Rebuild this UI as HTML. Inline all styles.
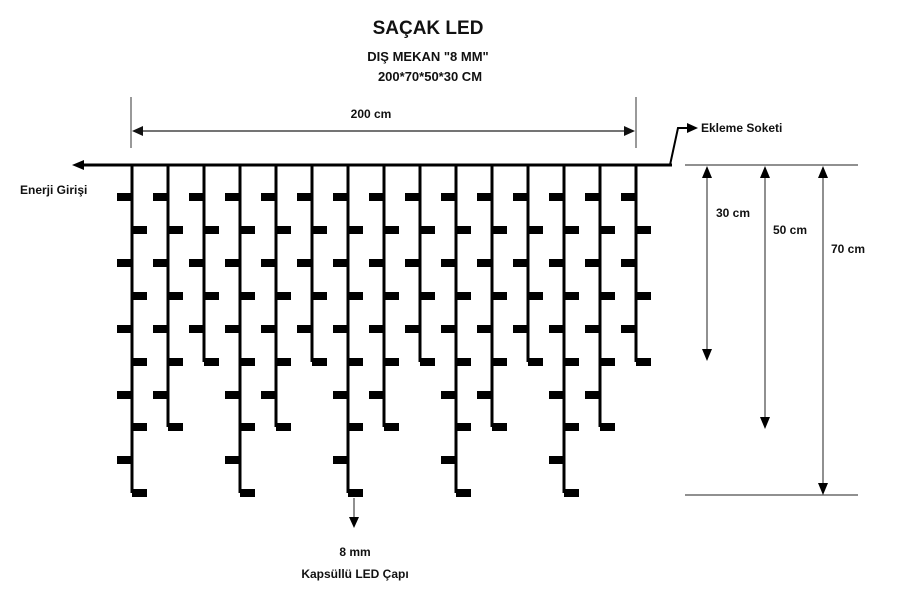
<!DOCTYPE html>
<html><head><meta charset="utf-8"><style>
body{margin:0;background:#fff;}
svg{display:block;}
text{font-family:"Liberation Sans",sans-serif;font-weight:bold;fill:#111;}
</style></head><body>
<svg width="900" height="601" viewBox="0 0 900 601" xmlns="http://www.w3.org/2000/svg">
<defs>
<g id="s30">
<rect x="-1.5" y="165" width="3" height="197"/>
<rect x="-15" y="193" width="15" height="8"/><rect x="-15" y="259" width="15" height="8"/><rect x="-15" y="325" width="15" height="8"/>
<rect x="0" y="226" width="15" height="8"/><rect x="0" y="292" width="15" height="8"/><rect x="0" y="358" width="15" height="8"/>
</g>
<g id="s50">
<rect x="-1.5" y="165" width="3" height="262"/>
<rect x="-15" y="193" width="15" height="8"/><rect x="-15" y="259" width="15" height="8"/><rect x="-15" y="325" width="15" height="8"/><rect x="-15" y="391" width="15" height="8"/>
<rect x="0" y="226" width="15" height="8"/><rect x="0" y="292" width="15" height="8"/><rect x="0" y="358" width="15" height="8"/><rect x="0" y="423" width="15" height="8"/>
</g>
<g id="s70">
<rect x="-1.5" y="165" width="3" height="328"/>
<rect x="-15" y="193" width="15" height="8"/><rect x="-15" y="259" width="15" height="8"/><rect x="-15" y="325" width="15" height="8"/><rect x="-15" y="391" width="15" height="8"/><rect x="-15" y="456" width="15" height="8"/>
<rect x="0" y="226" width="15" height="8"/><rect x="0" y="292" width="15" height="8"/><rect x="0" y="358" width="15" height="8"/><rect x="0" y="423" width="15" height="8"/><rect x="0" y="489" width="15" height="8"/>
</g>
</defs>
<text x="428" y="34" font-size="19" text-anchor="middle">SAÇAK LED</text>
<text x="428" y="61" font-size="13" text-anchor="middle">DIŞ MEKAN "8 MM"</text>
<text x="430" y="81" font-size="13" text-anchor="middle">200*70*50*30 CM</text>
<line x1="131" y1="97" x2="131" y2="148" stroke="#333" stroke-width="1"/>
<line x1="636" y1="97" x2="636" y2="148" stroke="#333" stroke-width="1"/>
<line x1="140" y1="131" x2="627" y2="131" stroke="#222" stroke-width="1.3"/>
<polygon points="132,131 143,126 143,136" fill="#111"/>
<polygon points="635,131 624,126 624,136" fill="#111"/>
<text x="371" y="118" font-size="12" text-anchor="middle">200 cm</text>
<line x1="82" y1="165" x2="672" y2="165" stroke="#000" stroke-width="3"/>
<polygon points="72,165 84,160 84,170" fill="#000"/>
<polyline points="670,165 678,128 688,128" fill="none" stroke="#000" stroke-width="2"/>
<polygon points="698,128 687,123 687,133" fill="#000"/>
<text x="701" y="132" font-size="12">Ekleme Soketi</text>
<text x="20" y="194" font-size="12">Enerji Girişi</text>
<g fill="#000">
<use href="#s70" x="132"/><use href="#s50" x="168"/><use href="#s30" x="204"/>
<use href="#s70" x="240"/><use href="#s50" x="276"/><use href="#s30" x="312"/>
<use href="#s70" x="348"/><use href="#s50" x="384"/><use href="#s30" x="420"/>
<use href="#s70" x="456"/><use href="#s50" x="492"/><use href="#s30" x="528"/>
<use href="#s70" x="564"/><use href="#s50" x="600"/><use href="#s30" x="636"/>
</g>
<line x1="685" y1="165" x2="858" y2="165" stroke="#222" stroke-width="1"/>
<line x1="685" y1="495" x2="858" y2="495" stroke="#222" stroke-width="1"/>
<line x1="707" y1="170" x2="707" y2="355" stroke="#222" stroke-width="1"/>
<polygon points="707,166 702,178 712,178" fill="#000"/><polygon points="707,361 702,349 712,349" fill="#000"/>
<line x1="765" y1="170" x2="765" y2="422" stroke="#222" stroke-width="1"/>
<polygon points="765,166 760,178 770,178" fill="#000"/><polygon points="765,429 760,417 770,417" fill="#000"/>
<line x1="823" y1="170" x2="823" y2="489" stroke="#222" stroke-width="1"/>
<polygon points="823,166 818,178 828,178" fill="#000"/><polygon points="823,495 818,483 828,483" fill="#000"/>
<text x="716" y="217" font-size="12">30 cm</text>
<text x="773" y="234" font-size="12">50 cm</text>
<text x="831" y="253" font-size="12">70 cm</text>
<line x1="354" y1="498" x2="354" y2="520" stroke="#222" stroke-width="1"/>
<polygon points="354,528 349,517 359,517" fill="#000"/>
<text x="355" y="556" font-size="12" text-anchor="middle">8 mm</text>
<text x="355" y="578" font-size="12" text-anchor="middle">Kapsüllü LED Çapı</text>
</svg>
</body></html>
